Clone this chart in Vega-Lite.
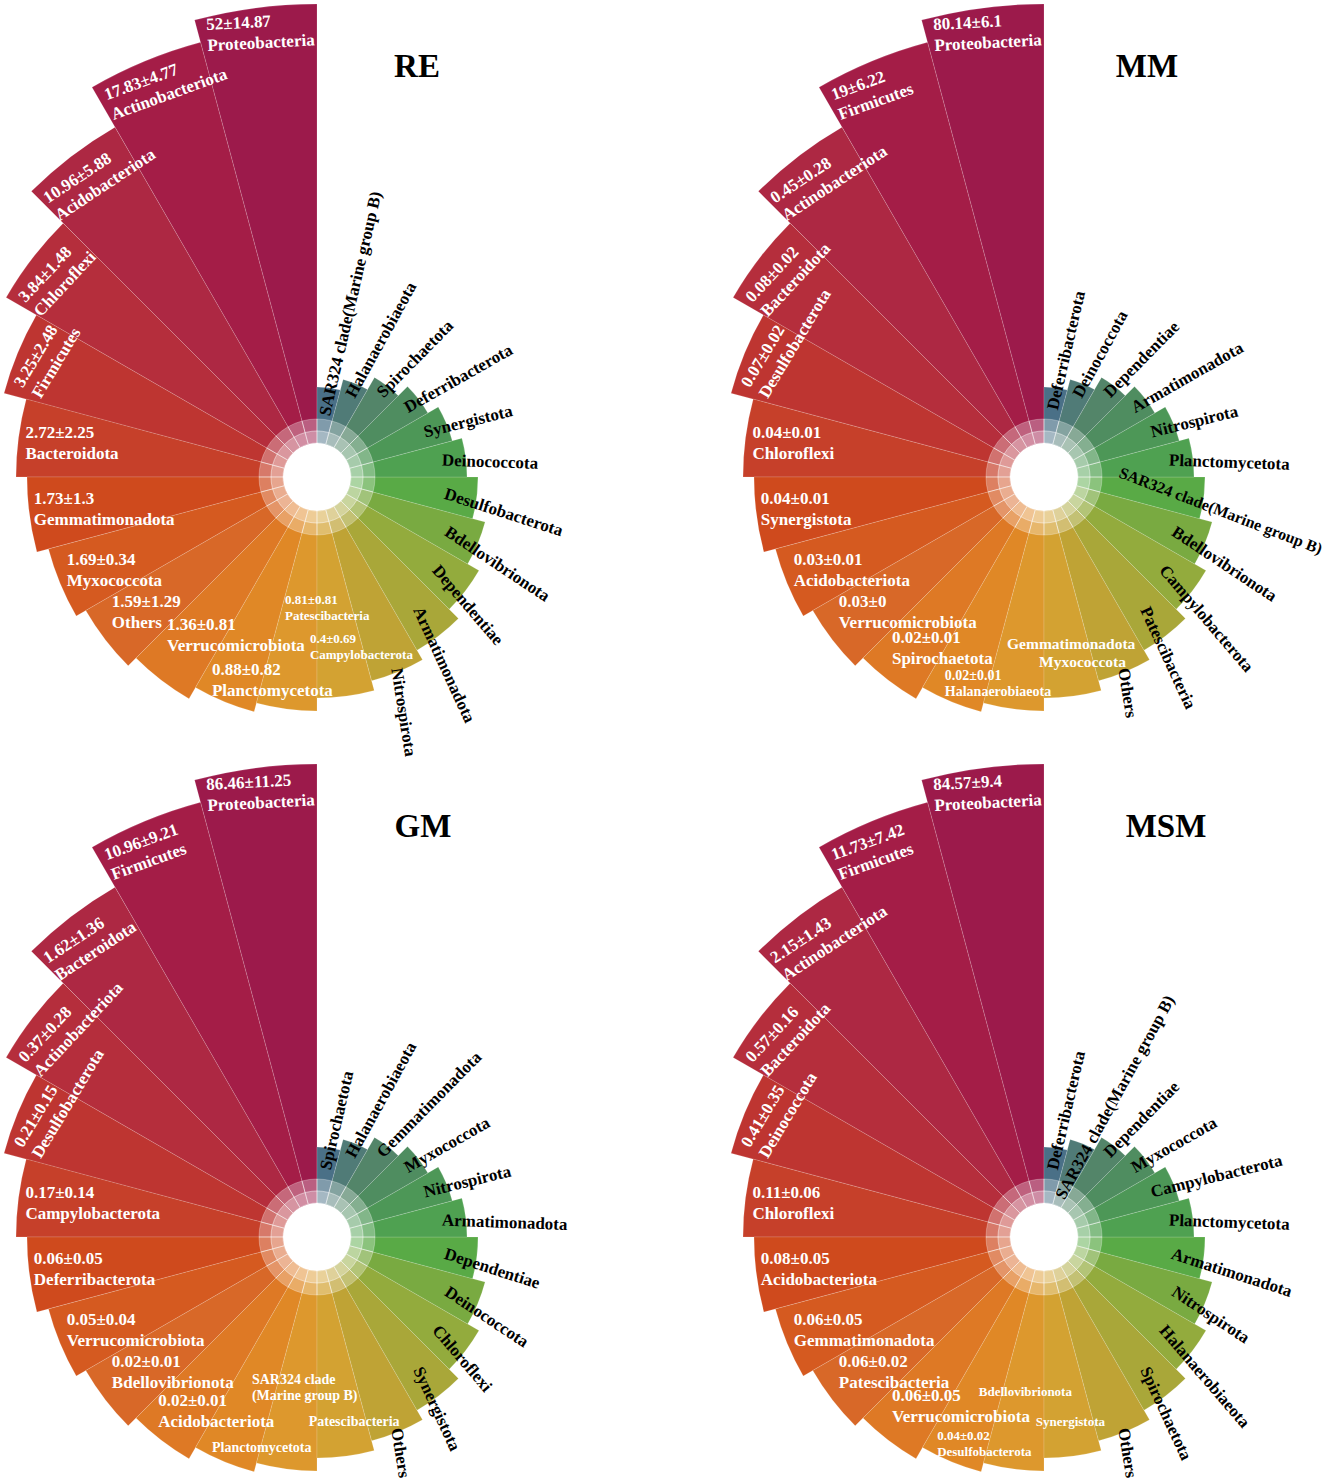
{
"$schema": "https://vega.github.io/schema/vega-lite/v6.json",
"background": "white",
"padding": 2,
"bounds": "flush",
"columns": 2,
"spacing": {"row": 160, "column": 127},
"data": {"values": [
{"panel":"RE","rank":1,"name":"Proteobacteria","value":"52±14.87"},
{"panel":"RE","rank":2,"name":"Actinobacteriota","value":"17.83±4.77"},
{"panel":"RE","rank":3,"name":"Acidobacteriota","value":"10.96±5.88"},
{"panel":"RE","rank":4,"name":"Chloroflexi","value":"3.84±1.48"},
{"panel":"RE","rank":5,"name":"Firmicutes","value":"3.25±2.48"},
{"panel":"RE","rank":6,"name":"Bacteroidota","value":"2.72±2.25"},
{"panel":"RE","rank":7,"name":"Gemmatimonadota","value":"1.73±1.3"},
{"panel":"RE","rank":8,"name":"Myxococcota","value":"1.69±0.34"},
{"panel":"RE","rank":9,"name":"Others","value":"1.59±1.29"},
{"panel":"RE","rank":10,"name":"Verrucomicrobiota","value":"1.36±0.81"},
{"panel":"RE","rank":11,"name":"Planctomycetota","value":"0.88±0.82"},
{"panel":"RE","rank":12,"name":"Patescibacteria","value":"0.81±0.81"},
{"panel":"RE","rank":13,"name":"Campylobacterota","value":"0.4±0.69"},
{"panel":"RE","rank":14,"name":"Nitrospirota","value":""},
{"panel":"RE","rank":15,"name":"Armatimonadota","value":""},
{"panel":"RE","rank":16,"name":"Dependentiae","value":""},
{"panel":"RE","rank":17,"name":"Bdellovibrionota","value":""},
{"panel":"RE","rank":18,"name":"Desulfobacterota","value":""},
{"panel":"RE","rank":19,"name":"Deinococcota","value":""},
{"panel":"RE","rank":20,"name":"Synergistota","value":""},
{"panel":"RE","rank":21,"name":"Deferribacterota","value":""},
{"panel":"RE","rank":22,"name":"Spirochaetota","value":""},
{"panel":"RE","rank":23,"name":"Halanaerobiaeota","value":""},
{"panel":"RE","rank":24,"name":"SAR324 clade(Marine group B)","value":""},
{"panel":"MM","rank":1,"name":"Proteobacteria","value":"80.14±6.1"},
{"panel":"MM","rank":2,"name":"Firmicutes","value":"19±6.22"},
{"panel":"MM","rank":3,"name":"Actinobacteriota","value":"0.45±0.28"},
{"panel":"MM","rank":4,"name":"Bacteroidota","value":"0.08±0.02"},
{"panel":"MM","rank":5,"name":"Desulfobacterota","value":"0.07±0.02"},
{"panel":"MM","rank":6,"name":"Chloroflexi","value":"0.04±0.01"},
{"panel":"MM","rank":7,"name":"Synergistota","value":"0.04±0.01"},
{"panel":"MM","rank":8,"name":"Acidobacteriota","value":"0.03±0.01"},
{"panel":"MM","rank":9,"name":"Verrucomicrobiota","value":"0.03±0"},
{"panel":"MM","rank":10,"name":"Spirochaetota","value":"0.02±0.01"},
{"panel":"MM","rank":11,"name":"Halanaerobiaeota","value":"0.02±0.01"},
{"panel":"MM","rank":12,"name":"Gemmatimonadota","value":""},
{"panel":"MM","rank":13,"name":"Myxococcota","value":""},
{"panel":"MM","rank":14,"name":"Others","value":""},
{"panel":"MM","rank":15,"name":"Patescibacteria","value":""},
{"panel":"MM","rank":16,"name":"Campylobacterota","value":""},
{"panel":"MM","rank":17,"name":"Bdellovibrionota","value":""},
{"panel":"MM","rank":18,"name":"SAR324 clade(Marine group B)","value":""},
{"panel":"MM","rank":19,"name":"Planctomycetota","value":""},
{"panel":"MM","rank":20,"name":"Nitrospirota","value":""},
{"panel":"MM","rank":21,"name":"Armatimonadota","value":""},
{"panel":"MM","rank":22,"name":"Dependentiae","value":""},
{"panel":"MM","rank":23,"name":"Deinococcota","value":""},
{"panel":"MM","rank":24,"name":"Deferribacterota","value":""},
{"panel":"GM","rank":1,"name":"Proteobacteria","value":"86.46±11.25"},
{"panel":"GM","rank":2,"name":"Firmicutes","value":"10.96±9.21"},
{"panel":"GM","rank":3,"name":"Bacteroidota","value":"1.62±1.36"},
{"panel":"GM","rank":4,"name":"Actinobacteriota","value":"0.37±0.28"},
{"panel":"GM","rank":5,"name":"Desulfobacterota","value":"0.21±0.15"},
{"panel":"GM","rank":6,"name":"Campylobacterota","value":"0.17±0.14"},
{"panel":"GM","rank":7,"name":"Deferribacterota","value":"0.06±0.05"},
{"panel":"GM","rank":8,"name":"Verrucomicrobiota","value":"0.05±0.04"},
{"panel":"GM","rank":9,"name":"Bdellovibrionota","value":"0.02±0.01"},
{"panel":"GM","rank":10,"name":"Acidobacteriota","value":"0.02±0.01"},
{"panel":"GM","rank":11,"name":"Planctomycetota","value":""},
{"panel":"GM","rank":12,"name":"SAR324 clade\n(Marine group B)","value":""},
{"panel":"GM","rank":13,"name":"Patescibacteria","value":""},
{"panel":"GM","rank":14,"name":"Others","value":""},
{"panel":"GM","rank":15,"name":"Synergistota","value":""},
{"panel":"GM","rank":16,"name":"Chloroflexi","value":""},
{"panel":"GM","rank":17,"name":"Deinococcota","value":""},
{"panel":"GM","rank":18,"name":"Dependentiae","value":""},
{"panel":"GM","rank":19,"name":"Armatimonadota","value":""},
{"panel":"GM","rank":20,"name":"Nitrospirota","value":""},
{"panel":"GM","rank":21,"name":"Myxococcota","value":""},
{"panel":"GM","rank":22,"name":"Gemmatimonadota","value":""},
{"panel":"GM","rank":23,"name":"Halanaerobiaeota","value":""},
{"panel":"GM","rank":24,"name":"Spirochaetota","value":""},
{"panel":"MSM","rank":1,"name":"Proteobacteria","value":"84.57±9.4"},
{"panel":"MSM","rank":2,"name":"Firmicutes","value":"11.73±7.42"},
{"panel":"MSM","rank":3,"name":"Actinobacteriota","value":"2.15±1.43"},
{"panel":"MSM","rank":4,"name":"Bacteroidota","value":"0.57±0.16"},
{"panel":"MSM","rank":5,"name":"Deinococcota","value":"0.41±0.35"},
{"panel":"MSM","rank":6,"name":"Chloroflexi","value":"0.11±0.06"},
{"panel":"MSM","rank":7,"name":"Acidobacteriota","value":"0.08±0.05"},
{"panel":"MSM","rank":8,"name":"Gemmatimonadota","value":"0.06±0.05"},
{"panel":"MSM","rank":9,"name":"Patescibacteria","value":"0.06±0.02"},
{"panel":"MSM","rank":10,"name":"Verrucomicrobiota","value":"0.06±0.05"},
{"panel":"MSM","rank":11,"name":"Desulfobacterota","value":"0.04±0.02"},
{"panel":"MSM","rank":12,"name":"Bdellovibrionota","value":""},
{"panel":"MSM","rank":13,"name":"Synergistota","value":""},
{"panel":"MSM","rank":14,"name":"Others","value":""},
{"panel":"MSM","rank":15,"name":"Spirochaetota","value":""},
{"panel":"MSM","rank":16,"name":"Halanaerobiaeota","value":""},
{"panel":"MSM","rank":17,"name":"Nitrospirota","value":""},
{"panel":"MSM","rank":18,"name":"Armatimonadota","value":""},
{"panel":"MSM","rank":19,"name":"Planctomycetota","value":""},
{"panel":"MSM","rank":20,"name":"Campylobacterota","value":""},
{"panel":"MSM","rank":21,"name":"Myxococcota","value":""},
{"panel":"MSM","rank":22,"name":"Dependentiae","value":""},
{"panel":"MSM","rank":23,"name":"SAR324 clade(Marine group B)","value":""},
{"panel":"MSM","rank":24,"name":"Deferribacterota","value":""}
]},
"concat": [
{
"title": {"text": "RE", "anchor": "middle", "frame": "group", "dx": 100, "offset": -107, "baseline": "alphabetic", "fontSize": 33, "font": "Liberation Serif", "fontWeight": "bold", "color": "#000000"},
"width": 600, "height": 600,
"transform": [{"filter": "datum.panel === 'RE'"}, {"joinaggregate": [{"op": "count", "as": "n"}]}, {"stack": "n", "groupby": [], "sort": [{"field": "rank", "order": "descending"}], "as": ["t0", "t1"]}],
"resolve": {"scale": {"theta": "independent", "radius": "independent", "angle": "independent"}},
"layer": [
{"mark": {"type": "arc", "radius2": 34, "stroke": "#ffffff", "strokeWidth": 0.6, "strokeOpacity": 0.25},
 "encoding": {
  "theta": {"field": "t0", "type": "quantitative", "scale": {"domain": [0, 576], "zero": false, "nice": false}},
  "theta2": {"field": "t1"},
  "radius": {"field": "rank", "type": "quantitative", "scale": {"domain": [1,2,3,4,5,6,7,8,9,10,11,12,13,14,15,16,17,18,19,20,21,22,23,24], "range": [473,450,404,359,324,301,290,278,267,256,243,234,221,211,200,187,174,161,150,140,128,115,101,90], "zero": false, "nice": false}},
  "color": {"field": "rank", "type": "ordinal", "scale": {"domain": [1,2,3,4,5,6,7,8,9,10,11,12,13,14,15,16,17,18,19,20,21,22,23,24], "range": ["#9c1a4b","#a41d47","#ad2843","#b52e3c","#be3531","#c6402a","#cf4a1d","#d55a20","#d86828","#de7925","#e08826","#dd982d","#d3a232","#bfa335","#a9a739","#93ab3d","#79aa41","#59aa46","#4fa151","#4d9757","#4f8d60","#538569","#507b77","#4a7087"]}, "legend": null}
 }},
{"mark": {"type": "arc", "radius": 58, "radius2": 46, "fill": "#ffffff", "fillOpacity": 0.3, "stroke": "#ffffff", "strokeWidth": 0.8, "strokeOpacity": 0.35},
 "encoding": {"theta": {"field": "t0", "type": "quantitative", "scale": {"domain": [0, 576], "zero": false, "nice": false}}, "theta2": {"field": "t1"}}},
{"mark": {"type": "arc", "radius": 46, "radius2": 34, "fill": "#ffffff", "fillOpacity": 0.5, "stroke": "#ffffff", "strokeWidth": 0.8, "strokeOpacity": 0.35},
 "encoding": {"theta": {"field": "t0", "type": "quantitative", "scale": {"domain": [0, 576], "zero": false, "nice": false}}, "theta2": {"field": "t1"}}},
{"transform": [{"filter": "datum.rank <= 11"}],
 "mark": {"type": "text", "align": "left", "baseline": "middle", "dy": -10.5, "font": "Liberation Serif", "fontWeight": "bold", "fontSize": 17, "color": "#ffffff"},
 "encoding": {
  "theta": {"field": "rank", "type": "quantitative", "scale": {"domain": [1,2,3,4,5,6,7,8,9,10,11,12,13], "range": [6.0388,5.7718,5.5030,5.2465,5.0004,4.8258,4.5989,4.3563,4.1277,3.9008,3.6181,3.3808,3.1835], "zero": false, "nice": false}},
  "radius": {"field": "rank", "type": "quantitative", "scale": {"domain": [1,2,3,4,5,6,7,8,9,10,11,12,13], "range": [455,426,378,334,302,293.5,285,267,246,218,229,135,170], "zero": false, "nice": false}},
  "angle": {"field": "rank", "type": "quantitative", "scale": {"domain": [1,2,3,4,5,6,13], "range": [-3,-20,-33.5,-47,-59,0,0], "zero": false, "nice": false}},
  "text": {"field": "value"}
 }},
{"transform": [{"filter": "datum.rank <= 11"}],
 "mark": {"type": "text", "align": "left", "baseline": "middle", "dy": 10.5, "font": "Liberation Serif", "fontWeight": "bold", "fontSize": 17, "color": "#ffffff"},
 "encoding": {
  "theta": {"field": "rank", "type": "quantitative", "scale": {"domain": [1,2,3,4,5,6,7,8,9,10,11,12,13], "range": [6.0388,5.7718,5.5030,5.2465,5.0004,4.8258,4.5989,4.3563,4.1277,3.9008,3.6181,3.3808,3.1835], "zero": false, "nice": false}},
  "radius": {"field": "rank", "type": "quantitative", "scale": {"domain": [1,2,3,4,5,6,7,8,9,10,11,12,13], "range": [455,426,378,334,302,293.5,285,267,246,218,229,135,170], "zero": false, "nice": false}},
  "angle": {"field": "rank", "type": "quantitative", "scale": {"domain": [1,2,3,4,5,6,13], "range": [-3,-20,-33.5,-47,-59,0,0], "zero": false, "nice": false}},
  "text": {"field": "name"}
 }},
{"transform": [{"filter": "datum.rank >= 12 && datum.rank <= 13"}],
 "mark": {"type": "text", "align": "left", "baseline": "middle", "dy": -8, "font": "Liberation Serif", "fontWeight": "bold", "fontSize": 13, "color": "#ffffff"},
 "encoding": {
  "theta": {"field": "rank", "type": "quantitative", "scale": {"domain": [1,2,3,4,5,6,7,8,9,10,11,12,13], "range": [6.0388,5.7718,5.5030,5.2465,5.0004,4.8258,4.5989,4.3563,4.1277,3.9008,3.6181,3.3808,3.1835], "zero": false, "nice": false}},
  "radius": {"field": "rank", "type": "quantitative", "scale": {"domain": [1,2,3,4,5,6,7,8,9,10,11,12,13], "range": [455,426,378,334,302,293.5,285,267,246,218,229,135,170], "zero": false, "nice": false}},
  "text": {"field": "value"}
 }},
{"transform": [{"filter": "datum.rank >= 12 && datum.rank <= 13"}],
 "mark": {"type": "text", "align": "left", "baseline": "middle", "dy": 8, "lineBreak": "\n", "font": "Liberation Serif", "fontWeight": "bold", "fontSize": 13, "color": "#ffffff"},
 "encoding": {
  "theta": {"field": "rank", "type": "quantitative", "scale": {"domain": [1,2,3,4,5,6,7,8,9,10,11,12,13], "range": [6.0388,5.7718,5.5030,5.2465,5.0004,4.8258,4.5989,4.3563,4.1277,3.9008,3.6181,3.3808,3.1835], "zero": false, "nice": false}},
  "radius": {"field": "rank", "type": "quantitative", "scale": {"domain": [1,2,3,4,5,6,7,8,9,10,11,12,13], "range": [455,426,378,334,302,293.5,285,267,246,218,229,135,170], "zero": false, "nice": false}},
  "text": {"field": "name"}
 }},
{"transform": [{"filter": "datum.rank >= 14"}],
 "mark": {"type": "text", "align": "left", "baseline": "middle", "font": "Liberation Serif", "fontWeight": "bold", "fontSize": 17, "color": "#000000"},
 "encoding": {
  "theta": {"field": "rank", "type": "quantitative", "scale": {"domain": [14, 24], "range": [2.7489, 0.1309], "zero": false, "nice": false}},
  "radius": {"field": "rank", "type": "quantitative", "scale": {"domain": [14,15,16,17,18,19,20,21,22,23,24], "range": [207,165,149,140,129,126,116,112,103.5,87,62], "zero": false, "nice": false}},
  "angle": {"field": "rank", "type": "quantitative", "scale": {"domain": [14, 24], "range": [81, -77], "zero": false, "nice": false}},
  "text": {"field": "name"}
 }}
]
},
{
"title": {"text": "MM", "anchor": "middle", "frame": "group", "dx": 103, "offset": -107, "baseline": "alphabetic", "fontSize": 33, "font": "Liberation Serif", "fontWeight": "bold", "color": "#000000"},
"width": 600, "height": 600,
"transform": [{"filter": "datum.panel === 'MM'"}, {"joinaggregate": [{"op": "count", "as": "n"}]}, {"stack": "n", "groupby": [], "sort": [{"field": "rank", "order": "descending"}], "as": ["t0", "t1"]}],
"resolve": {"scale": {"theta": "independent", "radius": "independent", "angle": "independent"}},
"layer": [
{"mark": {"type": "arc", "radius2": 34, "stroke": "#ffffff", "strokeWidth": 0.6, "strokeOpacity": 0.25},
 "encoding": {
  "theta": {"field": "t0", "type": "quantitative", "scale": {"domain": [0, 576], "zero": false, "nice": false}},
  "theta2": {"field": "t1"},
  "radius": {"field": "rank", "type": "quantitative", "scale": {"domain": [1,2,3,4,5,6,7,8,9,10,11,12,13,14,15,16,17,18,19,20,21,22,23,24], "range": [473,450,404,359,324,301,290,278,267,256,243,234,221,211,200,187,174,161,150,140,128,115,101,90], "zero": false, "nice": false}},
  "color": {"field": "rank", "type": "ordinal", "scale": {"domain": [1,2,3,4,5,6,7,8,9,10,11,12,13,14,15,16,17,18,19,20,21,22,23,24], "range": ["#9c1a4b","#a41d47","#ad2843","#b52e3c","#be3531","#c6402a","#cf4a1d","#d55a20","#d86828","#de7925","#e08826","#dd982d","#d3a232","#bfa335","#a9a739","#93ab3d","#79aa41","#59aa46","#4fa151","#4d9757","#4f8d60","#538569","#507b77","#4a7087"]}, "legend": null}
 }},
{"mark": {"type": "arc", "radius": 58, "radius2": 46, "fill": "#ffffff", "fillOpacity": 0.3, "stroke": "#ffffff", "strokeWidth": 0.8, "strokeOpacity": 0.35},
 "encoding": {"theta": {"field": "t0", "type": "quantitative", "scale": {"domain": [0, 576], "zero": false, "nice": false}}, "theta2": {"field": "t1"}}},
{"mark": {"type": "arc", "radius": 46, "radius2": 34, "fill": "#ffffff", "fillOpacity": 0.5, "stroke": "#ffffff", "strokeWidth": 0.8, "strokeOpacity": 0.35},
 "encoding": {"theta": {"field": "t0", "type": "quantitative", "scale": {"domain": [0, 576], "zero": false, "nice": false}}, "theta2": {"field": "t1"}}},
{"transform": [{"filter": "datum.rank <= 10"}],
 "mark": {"type": "text", "align": "left", "baseline": "middle", "dy": -10.5, "font": "Liberation Serif", "fontWeight": "bold", "fontSize": 17, "color": "#ffffff"},
 "encoding": {
  "theta": {"field": "rank", "type": "quantitative", "scale": {"domain": [1,2,3,4,5,6,7,8,9,10,11,12,13], "range": [6.0388,5.7718,5.5030,5.2465,5.0004,4.8258,4.5989,4.3563,4.1277,3.8659,3.5884,3.3703,3.1695], "zero": false, "nice": false}},
  "radius": {"field": "rank", "type": "quantitative", "scale": {"domain": [1,2,3,4,5,6,7,8,9,10,11,12,13], "range": [455,426,378,334,302,293.5,285,267,246,229.5,229.5,163,177], "zero": false, "nice": false}},
  "angle": {"field": "rank", "type": "quantitative", "scale": {"domain": [1,2,3,4,5,6,13], "range": [-3,-20,-33.5,-47,-59,0,0], "zero": false, "nice": false}},
  "text": {"field": "value"}
 }},
{"transform": [{"filter": "datum.rank <= 10"}],
 "mark": {"type": "text", "align": "left", "baseline": "middle", "dy": 10.5, "font": "Liberation Serif", "fontWeight": "bold", "fontSize": 17, "color": "#ffffff"},
 "encoding": {
  "theta": {"field": "rank", "type": "quantitative", "scale": {"domain": [1,2,3,4,5,6,7,8,9,10,11,12,13], "range": [6.0388,5.7718,5.5030,5.2465,5.0004,4.8258,4.5989,4.3563,4.1277,3.8659,3.5884,3.3703,3.1695], "zero": false, "nice": false}},
  "radius": {"field": "rank", "type": "quantitative", "scale": {"domain": [1,2,3,4,5,6,7,8,9,10,11,12,13], "range": [455,426,378,334,302,293.5,285,267,246,229.5,229.5,163,177], "zero": false, "nice": false}},
  "angle": {"field": "rank", "type": "quantitative", "scale": {"domain": [1,2,3,4,5,6,13], "range": [-3,-20,-33.5,-47,-59,0,0], "zero": false, "nice": false}},
  "text": {"field": "name"}
 }},
{"transform": [{"filter": "datum.rank == 11"}],
 "mark": {"type": "text", "align": "left", "baseline": "middle", "dy": -8, "font": "Liberation Serif", "fontWeight": "bold", "fontSize": 14, "color": "#ffffff"},
 "encoding": {
  "theta": {"field": "rank", "type": "quantitative", "scale": {"domain": [1,2,3,4,5,6,7,8,9,10,11,12,13], "range": [6.0388,5.7718,5.5030,5.2465,5.0004,4.8258,4.5989,4.3563,4.1277,3.8659,3.5884,3.3703,3.1695], "zero": false, "nice": false}},
  "radius": {"field": "rank", "type": "quantitative", "scale": {"domain": [1,2,3,4,5,6,7,8,9,10,11,12,13], "range": [455,426,378,334,302,293.5,285,267,246,229.5,229.5,163,177], "zero": false, "nice": false}},
  "text": {"field": "value"}
 }},
{"transform": [{"filter": "datum.rank == 11"}],
 "mark": {"type": "text", "align": "left", "baseline": "middle", "dy": 8, "font": "Liberation Serif", "fontWeight": "bold", "fontSize": 14, "color": "#ffffff"},
 "encoding": {
  "theta": {"field": "rank", "type": "quantitative", "scale": {"domain": [1,2,3,4,5,6,7,8,9,10,11,12,13], "range": [6.0388,5.7718,5.5030,5.2465,5.0004,4.8258,4.5989,4.3563,4.1277,3.8659,3.5884,3.3703,3.1695], "zero": false, "nice": false}},
  "radius": {"field": "rank", "type": "quantitative", "scale": {"domain": [1,2,3,4,5,6,7,8,9,10,11,12,13], "range": [455,426,378,334,302,293.5,285,267,246,229.5,229.5,163,177], "zero": false, "nice": false}},
  "text": {"field": "name"}
 }},
{"transform": [{"filter": "datum.rank >= 12 && datum.rank <= 13"}],
 "mark": {"type": "text", "align": "left", "baseline": "middle", "dy": 8, "font": "Liberation Serif", "fontWeight": "bold", "fontSize": 15.5, "color": "#ffffff"},
 "encoding": {
  "theta": {"field": "rank", "type": "quantitative", "scale": {"domain": [1,2,3,4,5,6,7,8,9,10,11,12,13], "range": [6.0388,5.7718,5.5030,5.2465,5.0004,4.8258,4.5989,4.3563,4.1277,3.8659,3.5884,3.3703,3.1695], "zero": false, "nice": false}},
  "radius": {"field": "rank", "type": "quantitative", "scale": {"domain": [1,2,3,4,5,6,7,8,9,10,11,12,13], "range": [455,426,378,334,302,293.5,285,267,246,229.5,229.5,163,177], "zero": false, "nice": false}},
  "text": {"field": "name"}
 }},
{"transform": [{"filter": "datum.rank >= 14 && datum.rank != 18"}],
 "mark": {"type": "text", "align": "left", "baseline": "middle", "font": "Liberation Serif", "fontWeight": "bold", "fontSize": 17, "color": "#000000"},
 "encoding": {
  "theta": {"field": "rank", "type": "quantitative", "scale": {"domain": [14, 24], "range": [2.7489, 0.1309], "zero": false, "nice": false}},
  "radius": {"field": "rank", "type": "quantitative", "scale": {"domain": [14,15,16,17,18,19,20,21,22,23,24], "range": [207,165,149,140,129,126,116,112,103.5,87,68], "zero": false, "nice": false}},
  "angle": {"field": "rank", "type": "quantitative", "scale": {"domain": [14, 24], "range": [81, -77], "zero": false, "nice": false}},
  "text": {"field": "name"}
 }},
{"transform": [{"filter": "datum.rank == 18"}],
 "mark": {"type": "text", "align": "left", "baseline": "middle", "radiusOffset": -58, "angle": 21, "dy": -15, "font": "Liberation Serif", "fontWeight": "bold", "fontSize": 16, "color": "#000000"},
 "encoding": {
  "theta": {"field": "rank", "type": "quantitative", "scale": {"domain": [14, 24], "range": [2.7489, 0.1309], "zero": false, "nice": false}},
  "radius": {"field": "rank", "type": "quantitative", "scale": {"domain": [14,15,16,17,18,19,20,21,22,23,24], "range": [207,165,149,140,129,126,116,112,103.5,87,68], "zero": false, "nice": false}},
  "text": {"field": "name"}
 }}
]
},
{
"title": {"text": "GM", "anchor": "middle", "frame": "group", "dx": 106, "offset": -107, "baseline": "alphabetic", "fontSize": 33, "font": "Liberation Serif", "fontWeight": "bold", "color": "#000000"},
"width": 600, "height": 600,
"transform": [{"filter": "datum.panel === 'GM'"}, {"joinaggregate": [{"op": "count", "as": "n"}]}, {"stack": "n", "groupby": [], "sort": [{"field": "rank", "order": "descending"}], "as": ["t0", "t1"]}],
"resolve": {"scale": {"theta": "independent", "radius": "independent", "angle": "independent"}},
"layer": [
{"mark": {"type": "arc", "radius2": 34, "stroke": "#ffffff", "strokeWidth": 0.6, "strokeOpacity": 0.25},
 "encoding": {
  "theta": {"field": "t0", "type": "quantitative", "scale": {"domain": [0, 576], "zero": false, "nice": false}},
  "theta2": {"field": "t1"},
  "radius": {"field": "rank", "type": "quantitative", "scale": {"domain": [1,2,3,4,5,6,7,8,9,10,11,12,13,14,15,16,17,18,19,20,21,22,23,24], "range": [473,450,404,359,324,301,290,278,267,256,243,234,221,211,200,187,174,161,150,140,128,115,101,90], "zero": false, "nice": false}},
  "color": {"field": "rank", "type": "ordinal", "scale": {"domain": [1,2,3,4,5,6,7,8,9,10,11,12,13,14,15,16,17,18,19,20,21,22,23,24], "range": ["#9c1a4b","#a41d47","#ad2843","#b52e3c","#be3531","#c6402a","#cf4a1d","#d55a20","#d86828","#de7925","#e08826","#dd982d","#d3a232","#bfa335","#a9a739","#93ab3d","#79aa41","#59aa46","#4fa151","#4d9757","#4f8d60","#538569","#507b77","#4a7087"]}, "legend": null}
 }},
{"mark": {"type": "arc", "radius": 58, "radius2": 46, "fill": "#ffffff", "fillOpacity": 0.3, "stroke": "#ffffff", "strokeWidth": 0.8, "strokeOpacity": 0.35},
 "encoding": {"theta": {"field": "t0", "type": "quantitative", "scale": {"domain": [0, 576], "zero": false, "nice": false}}, "theta2": {"field": "t1"}}},
{"mark": {"type": "arc", "radius": 46, "radius2": 34, "fill": "#ffffff", "fillOpacity": 0.5, "stroke": "#ffffff", "strokeWidth": 0.8, "strokeOpacity": 0.35},
 "encoding": {"theta": {"field": "t0", "type": "quantitative", "scale": {"domain": [0, 576], "zero": false, "nice": false}}, "theta2": {"field": "t1"}}},
{"transform": [{"filter": "datum.rank <= 10"}],
 "mark": {"type": "text", "align": "left", "baseline": "middle", "dy": -10.5, "font": "Liberation Serif", "fontWeight": "bold", "fontSize": 17, "color": "#ffffff"},
 "encoding": {
  "theta": {"field": "rank", "type": "quantitative", "scale": {"domain": [1,2,3,4,5,6,7,8,9,10,11,12,13], "range": [6.0388,5.7718,5.5030,5.2465,5.0004,4.8258,4.5989,4.3563,4.1277,3.8799,3.6181,3.5902,3.1887], "zero": false, "nice": false}},
  "radius": {"field": "rank", "type": "quantitative", "scale": {"domain": [1,2,3,4,5,6,7,8,9,10,11,12,13], "range": [455,426,378,334,302,293.5,285,267,246,236,229,150,177], "zero": false, "nice": false}},
  "angle": {"field": "rank", "type": "quantitative", "scale": {"domain": [1,2,3,4,5,6,13], "range": [-3,-20,-33.5,-47,-59,0,0], "zero": false, "nice": false}},
  "text": {"field": "value"}
 }},
{"transform": [{"filter": "datum.rank <= 10"}],
 "mark": {"type": "text", "align": "left", "baseline": "middle", "dy": 10.5, "font": "Liberation Serif", "fontWeight": "bold", "fontSize": 17, "color": "#ffffff"},
 "encoding": {
  "theta": {"field": "rank", "type": "quantitative", "scale": {"domain": [1,2,3,4,5,6,7,8,9,10,11,12,13], "range": [6.0388,5.7718,5.5030,5.2465,5.0004,4.8258,4.5989,4.3563,4.1277,3.8799,3.6181,3.5902,3.1887], "zero": false, "nice": false}},
  "radius": {"field": "rank", "type": "quantitative", "scale": {"domain": [1,2,3,4,5,6,7,8,9,10,11,12,13], "range": [455,426,378,334,302,293.5,285,267,246,236,229,150,177], "zero": false, "nice": false}},
  "angle": {"field": "rank", "type": "quantitative", "scale": {"domain": [1,2,3,4,5,6,13], "range": [-3,-20,-33.5,-47,-59,0,0], "zero": false, "nice": false}},
  "text": {"field": "name"}
 }},
{"transform": [{"filter": "datum.rank >= 11 && datum.rank <= 13"}],
 "mark": {"type": "text", "align": "left", "baseline": "middle", "dy": 8, "lineBreak": "\n", "font": "Liberation Serif", "fontWeight": "bold", "fontSize": 14, "color": "#ffffff"},
 "encoding": {
  "theta": {"field": "rank", "type": "quantitative", "scale": {"domain": [1,2,3,4,5,6,7,8,9,10,11,12,13], "range": [6.0388,5.7718,5.5030,5.2465,5.0004,4.8258,4.5989,4.3563,4.1277,3.8799,3.6181,3.5902,3.1887], "zero": false, "nice": false}},
  "radius": {"field": "rank", "type": "quantitative", "scale": {"domain": [1,2,3,4,5,6,7,8,9,10,11,12,13], "range": [455,426,378,334,302,293.5,285,267,246,236,229,150,177], "zero": false, "nice": false}},
  "text": {"field": "name"}
 }},
{"transform": [{"filter": "datum.rank >= 14"}],
 "mark": {"type": "text", "align": "left", "baseline": "middle", "font": "Liberation Serif", "fontWeight": "bold", "fontSize": 17, "color": "#000000"},
 "encoding": {
  "theta": {"field": "rank", "type": "quantitative", "scale": {"domain": [14, 24], "range": [2.7489, 0.1309], "zero": false, "nice": false}},
  "radius": {"field": "rank", "type": "quantitative", "scale": {"domain": [14,15,16,17,18,19,20,21,22,23,24], "range": [207,165,149,140,129,126,116,112,103.5,87,68], "zero": false, "nice": false}},
  "angle": {"field": "rank", "type": "quantitative", "scale": {"domain": [14, 24], "range": [81, -77], "zero": false, "nice": false}},
  "text": {"field": "name"}
 }}
]
},
{
"title": {"text": "MSM", "anchor": "middle", "frame": "group", "dx": 122, "offset": -107, "baseline": "alphabetic", "fontSize": 33, "font": "Liberation Serif", "fontWeight": "bold", "color": "#000000"},
"width": 600, "height": 600,
"transform": [{"filter": "datum.panel === 'MSM'"}, {"joinaggregate": [{"op": "count", "as": "n"}]}, {"stack": "n", "groupby": [], "sort": [{"field": "rank", "order": "descending"}], "as": ["t0", "t1"]}],
"resolve": {"scale": {"theta": "independent", "radius": "independent", "angle": "independent"}},
"layer": [
{"mark": {"type": "arc", "radius2": 34, "stroke": "#ffffff", "strokeWidth": 0.6, "strokeOpacity": 0.25},
 "encoding": {
  "theta": {"field": "t0", "type": "quantitative", "scale": {"domain": [0, 576], "zero": false, "nice": false}},
  "theta2": {"field": "t1"},
  "radius": {"field": "rank", "type": "quantitative", "scale": {"domain": [1,2,3,4,5,6,7,8,9,10,11,12,13,14,15,16,17,18,19,20,21,22,23,24], "range": [473,450,404,359,324,301,290,278,267,256,243,234,221,211,200,187,174,161,150,140,128,115,101,90], "zero": false, "nice": false}},
  "color": {"field": "rank", "type": "ordinal", "scale": {"domain": [1,2,3,4,5,6,7,8,9,10,11,12,13,14,15,16,17,18,19,20,21,22,23,24], "range": ["#9c1a4b","#a41d47","#ad2843","#b52e3c","#be3531","#c6402a","#cf4a1d","#d55a20","#d86828","#de7925","#e08826","#dd982d","#d3a232","#bfa335","#a9a739","#93ab3d","#79aa41","#59aa46","#4fa151","#4d9757","#4f8d60","#538569","#507b77","#4a7087"]}, "legend": null}
 }},
{"mark": {"type": "arc", "radius": 58, "radius2": 46, "fill": "#ffffff", "fillOpacity": 0.3, "stroke": "#ffffff", "strokeWidth": 0.8, "strokeOpacity": 0.35},
 "encoding": {"theta": {"field": "t0", "type": "quantitative", "scale": {"domain": [0, 576], "zero": false, "nice": false}}, "theta2": {"field": "t1"}}},
{"mark": {"type": "arc", "radius": 46, "radius2": 34, "fill": "#ffffff", "fillOpacity": 0.5, "stroke": "#ffffff", "strokeWidth": 0.8, "strokeOpacity": 0.35},
 "encoding": {"theta": {"field": "t0", "type": "quantitative", "scale": {"domain": [0, 576], "zero": false, "nice": false}}, "theta2": {"field": "t1"}}},
{"transform": [{"filter": "datum.rank <= 10"}],
 "mark": {"type": "text", "align": "left", "baseline": "middle", "dy": -10.5, "font": "Liberation Serif", "fontWeight": "bold", "fontSize": 17, "color": "#ffffff"},
 "encoding": {
  "theta": {"field": "rank", "type": "quantitative", "scale": {"domain": [1,2,3,4,5,6,7,8,9,10,11,12,13], "range": [6.0388,5.7718,5.5030,5.2465,5.0004,4.8258,4.5989,4.3563,4.1277,3.8712,3.6181,3.5587,3.1887], "zero": false, "nice": false}},
  "radius": {"field": "rank", "type": "quantitative", "scale": {"domain": [1,2,3,4,5,6,7,8,9,10,11,12,13], "range": [455,426,378,334,302,293.5,285,267,246,228,233,161,177], "zero": false, "nice": false}},
  "angle": {"field": "rank", "type": "quantitative", "scale": {"domain": [1,2,3,4,5,6,13], "range": [-3,-20,-33.5,-47,-59,0,0], "zero": false, "nice": false}},
  "text": {"field": "value"}
 }},
{"transform": [{"filter": "datum.rank <= 10"}],
 "mark": {"type": "text", "align": "left", "baseline": "middle", "dy": 10.5, "font": "Liberation Serif", "fontWeight": "bold", "fontSize": 17, "color": "#ffffff"},
 "encoding": {
  "theta": {"field": "rank", "type": "quantitative", "scale": {"domain": [1,2,3,4,5,6,7,8,9,10,11,12,13], "range": [6.0388,5.7718,5.5030,5.2465,5.0004,4.8258,4.5989,4.3563,4.1277,3.8712,3.6181,3.5587,3.1887], "zero": false, "nice": false}},
  "radius": {"field": "rank", "type": "quantitative", "scale": {"domain": [1,2,3,4,5,6,7,8,9,10,11,12,13], "range": [455,426,378,334,302,293.5,285,267,246,228,233,161,177], "zero": false, "nice": false}},
  "angle": {"field": "rank", "type": "quantitative", "scale": {"domain": [1,2,3,4,5,6,13], "range": [-3,-20,-33.5,-47,-59,0,0], "zero": false, "nice": false}},
  "text": {"field": "name"}
 }},
{"transform": [{"filter": "datum.rank >= 11 && datum.rank <= 13"}],
 "mark": {"type": "text", "align": "left", "baseline": "middle", "dy": -8, "font": "Liberation Serif", "fontWeight": "bold", "fontSize": 13, "color": "#ffffff"},
 "encoding": {
  "theta": {"field": "rank", "type": "quantitative", "scale": {"domain": [1,2,3,4,5,6,7,8,9,10,11,12,13], "range": [6.0388,5.7718,5.5030,5.2465,5.0004,4.8258,4.5989,4.3563,4.1277,3.8712,3.6181,3.5587,3.1887], "zero": false, "nice": false}},
  "radius": {"field": "rank", "type": "quantitative", "scale": {"domain": [1,2,3,4,5,6,7,8,9,10,11,12,13], "range": [455,426,378,334,302,293.5,285,267,246,228,233,161,177], "zero": false, "nice": false}},
  "text": {"field": "value"}
 }},
{"transform": [{"filter": "datum.rank >= 11 && datum.rank <= 13"}],
 "mark": {"type": "text", "align": "left", "baseline": "middle", "dy": 8, "lineBreak": "\n", "font": "Liberation Serif", "fontWeight": "bold", "fontSize": 13, "color": "#ffffff"},
 "encoding": {
  "theta": {"field": "rank", "type": "quantitative", "scale": {"domain": [1,2,3,4,5,6,7,8,9,10,11,12,13], "range": [6.0388,5.7718,5.5030,5.2465,5.0004,4.8258,4.5989,4.3563,4.1277,3.8712,3.6181,3.5587,3.1887], "zero": false, "nice": false}},
  "radius": {"field": "rank", "type": "quantitative", "scale": {"domain": [1,2,3,4,5,6,7,8,9,10,11,12,13], "range": [455,426,378,334,302,293.5,285,267,246,228,233,161,177], "zero": false, "nice": false}},
  "text": {"field": "name"}
 }},
{"transform": [{"filter": "datum.rank >= 14 && datum.rank != 23"}],
 "mark": {"type": "text", "align": "left", "baseline": "middle", "font": "Liberation Serif", "fontWeight": "bold", "fontSize": 17, "color": "#000000"},
 "encoding": {
  "theta": {"field": "rank", "type": "quantitative", "scale": {"domain": [14, 24], "range": [2.7489, 0.1309], "zero": false, "nice": false}},
  "radius": {"field": "rank", "type": "quantitative", "scale": {"domain": [14,15,16,17,18,19,20,21,22,23,24], "range": [207,165,149,140,129,126,116,112,103.5,87,68], "zero": false, "nice": false}},
  "angle": {"field": "rank", "type": "quantitative", "scale": {"domain": [14, 24], "range": [81, -77], "zero": false, "nice": false}},
  "text": {"field": "name"}
 }},
{"transform": [{"filter": "datum.rank == 23"}],
 "mark": {"type": "text", "align": "left", "baseline": "middle", "radiusOffset": -45, "font": "Liberation Serif", "fontWeight": "bold", "fontSize": 17, "color": "#000000"},
 "encoding": {
  "theta": {"field": "rank", "type": "quantitative", "scale": {"domain": [14, 24], "range": [2.7489, 0.1309], "zero": false, "nice": false}},
  "radius": {"field": "rank", "type": "quantitative", "scale": {"domain": [14,15,16,17,18,19,20,21,22,23,24], "range": [207,165,149,140,129,126,116,112,103.5,87,68], "zero": false, "nice": false}},
  "angle": {"field": "rank", "type": "quantitative", "scale": {"domain": [14, 24], "range": [81, -77], "zero": false, "nice": false}},
  "text": {"field": "name"}
 }}
]
}
],
"config": {"view": {"stroke": null}}
}
